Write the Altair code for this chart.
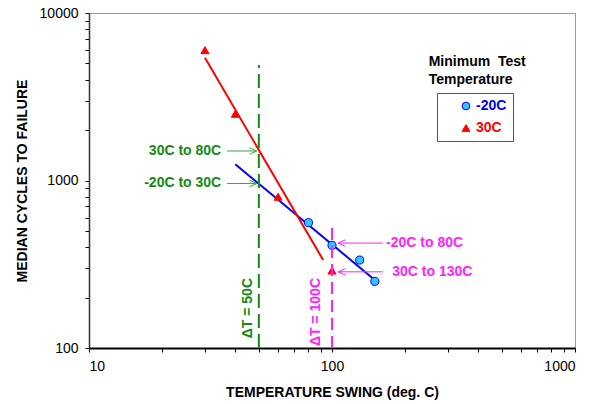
import altair as alt
import pandas as pd

# ---- data ----
series = ["-20C", "30C"]
cold_x = [80, 100, 130, 150]
cold_y = [560, 410, 335, 250]
hot_x = [30, 40, 60, 100]
hot_y = [6000, 2500, 800, 290]

cold_fit_x = [40, 150]
cold_fit_y = [1250, 255]
hot_fit_x = [30, 92]
hot_fit_y = [5400, 335]

dt_x = [50, 100]
dt_bottom = [100, 100]
dt_top = [4900, 535]
dt_text = ["ΔT = 50C", "ΔT = 100C"]
dt_text_x = [45, 86]
dt_text_y = [173, 164]

green_text = ["30C to 80C", "-20C to 30C"]
green_text_x = [35, 35]
green_y = [1500, 960]
green_from = [37, 37]
green_to = [49, 49]

mag_text = ["-20C to 80C", "30C to 130C"]
mag_text_x = [167, 177]
mag_y = [423, 285]
mag_from = [162, 162]
mag_to = [106, 106]

legend_title = "Minimum\u00a0 Test\nTemperature"
legend_title_x = [250]
legend_title_y = [5600]

x_ticks = [m * d for d in [10, 100] for m in range(1, 10)] + [1000]
y_ticks = [m * d for d in [100, 1000] for m in range(1, 10)] + [10000]

FONT = "Liberation Sans"
GREEN = "#138a13"
MAG = "#ff22ff"

xs = alt.Scale(type="log", domain=[10, 1000])
ys = alt.Scale(type="log", domain=[100, 10000])

X_LAB = "indexof([10, 100, 1000], datum.value) >= 0 ? datum.label : ''"
Y_LAB = "indexof([100, 1000, 10000], datum.value) >= 0 ? datum.label : ''"

pts = pd.DataFrame({
    "x": cold_x + hot_x,
    "y": cold_y + hot_y,
    "series": [series[0]] * len(cold_x) + [series[1]] * len(hot_x),
})

leg = alt.Legend(
    title=None, orient="none", legendX=348, legendY=80,
    strokeColor="#555555", padding=6, symbolOffset=16, labelOffset=3,
    rowPadding=8, symbolSize=60, symbolStrokeWidth=1,
    labelFont=FONT, labelFontSize=14, labelFontWeight="bold",
    labelExpr="datum.label + '    '",
    labelColor=alt.ExprRef(expr="datum.value == '-20C' ? '#0000ff' : '#ff0000'"),
)


def X(field="x"):
    return alt.X(f"{field}:Q", scale=xs, axis=None)


def Y(field="y"):
    return alt.Y(f"{field}:Q", scale=ys, axis=None)


points = alt.Chart(pts).mark_point(size=65, opacity=1, strokeWidth=1).encode(
    x=X(), y=Y(),
    fill=alt.Fill("series:N", scale=alt.Scale(domain=series, range=["#2fc8ff", "#ff0000"]), legend=leg),
    stroke=alt.Stroke("series:N", scale=alt.Scale(domain=series, range=["#0000ff", "#ff0000"]), legend=leg),
    shape=alt.Shape("series:N", scale=alt.Scale(domain=series, range=["circle", "triangle-up"]), legend=leg),
)

cold_fit = pd.DataFrame({"x": cold_fit_x, "y": cold_fit_y})
hot_fit = pd.DataFrame({"x": hot_fit_x, "y": hot_fit_y})

line_cold = alt.Chart(cold_fit).mark_line(color="#0000ff", strokeWidth=2).encode(
    x=alt.X("x:Q", scale=xs, axis=alt.Axis(
        orient="bottom", values=x_ticks, format="d", labelExpr=X_LAB, grid=False,
        tickSize=4, tickColor="#000", domainColor="#000", domainWidth=2,
        labelFont=FONT, labelFontSize=14, labelColor="#000", labelPadding=7,
        title="TEMPERATURE SWING (deg. C)", titleFont=FONT, titleFontSize=14,
        titleFontWeight="bold", titleColor="#000", titlePadding=12)),
    y=alt.Y("y:Q", scale=ys, axis=alt.Axis(
        orient="left", values=y_ticks, format="d", labelExpr=Y_LAB, grid=False,
        tickSize=4, tickColor="#000", domainColor="#333", domainWidth=1.5,
        labelFont=FONT, labelFontSize=14, labelColor="#000", labelPadding=7,
        title="MEDIAN CYCLES TO FAILURE", titleFont=FONT, titleFontSize=14,
        titleFontWeight="bold", titleColor="#000", titlePadding=10)),
)

line_hot = alt.Chart(hot_fit).mark_line(color="#ff0000", strokeWidth=2).encode(x=X(), y=Y())

dt = pd.DataFrame({"x": dt_x, "y": dt_bottom, "y2": dt_top})
rule_g = alt.Chart(dt.iloc[[0]]).mark_rule(color=GREEN, strokeWidth=2, strokeDash=[14, 6]).encode(
    x=X(), y=Y(), y2="y2:Q")
rule_m = alt.Chart(dt.iloc[[1]]).mark_rule(color=MAG, strokeWidth=2, strokeDash=[12, 6]).encode(
    x=X(), y=Y(), y2="y2:Q")

dtl = pd.DataFrame({"x": dt_text_x, "y": dt_text_y, "t": dt_text})
dt_g = alt.Chart(dtl.iloc[[0]]).mark_text(angle=270, font=FONT, fontSize=14, fontWeight="bold",
                                           color=GREEN, align="center", baseline="middle").encode(
    x=X(), y=Y(), text="t:N")
dt_m = alt.Chart(dtl.iloc[[1]]).mark_text(angle=270, font=FONT, fontSize=14, fontWeight="bold",
                                           color=MAG, align="center", baseline="middle").encode(
    x=X(), y=Y(), text="t:N")

ga = pd.DataFrame({"x": green_from, "x2": green_to, "y": green_y, "tx": green_text_x, "t": green_text})
ma = pd.DataFrame({"x": mag_from, "x2": mag_to, "y": mag_y, "tx": mag_text_x, "t": mag_text})

g_rule = alt.Chart(ga).mark_rule(color="#3aa53a", strokeWidth=1).encode(x=X(), x2="x2:Q", y=Y())
g_head = alt.Chart(ga).mark_point(shape="M-1,-0.45L0,0L-1,0.45", size=200, filled=False,
                                  color="#3aa53a", strokeWidth=1, opacity=1).encode(x=X("x2"), y=Y())
g_txt = alt.Chart(ga).mark_text(align="right", baseline="middle", font=FONT, fontSize=14,
                                fontWeight="bold", color=GREEN).encode(x=X("tx"), y=Y(), text="t:N")

m_rule = alt.Chart(ma).mark_rule(color=MAG, strokeWidth=1).encode(x=X(), x2="x2:Q", y=Y())
m_head = alt.Chart(ma).mark_point(shape="M1,-0.45L0,0L1,0.45", size=200, filled=False,
                                  color=MAG, strokeWidth=1, opacity=1).encode(x=X("x2"), y=Y())
m_txt = alt.Chart(ma).mark_text(align="left", baseline="middle", font=FONT, fontSize=14,
                                fontWeight="bold", color=MAG).encode(x=X("tx"), y=Y(), text="t:N")

lt = pd.DataFrame({"x": legend_title_x, "y": legend_title_y, "t": [legend_title]})
leg_title = alt.Chart(lt).mark_text(align="left", baseline="top", font=FONT, fontSize=14,
                                    fontWeight="bold", color="#000", lineBreak="\n",
                                    lineHeight=18).encode(x=X(), y=Y(), text="t:N")

chart = alt.layer(
    line_cold, line_hot, rule_g, g_rule, g_head, g_txt, dt_g,
    points, rule_m, m_rule, m_head, m_txt, dt_m, leg_title,
).resolve_axis(x="independent", y="independent").properties(
    width=486, height=335,
    padding={"left": 89, "top": 13, "right": 22, "bottom": 56},
    autosize=alt.AutoSizeParams(type="none"),
    background="white",
).configure_view(stroke="#999999", strokeWidth=1)

chart.save("out.html", embed_options={"renderer": "svg", "actions": False})
